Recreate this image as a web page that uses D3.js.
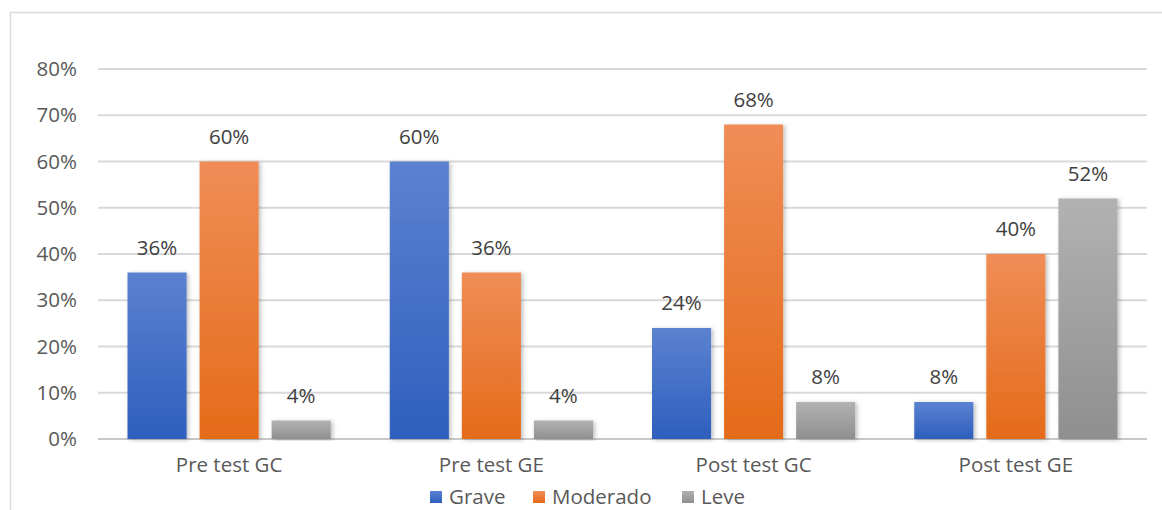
<!DOCTYPE html>
<html>
<head>
<meta charset="utf-8">
<script src="https://cdn.jsdelivr.net/npm/d3@7"></script>
<style>
  html, body { margin: 0; padding: 0; background: #fff; }
  svg { display: block; font-family: "Open Sans", "Liberation Sans", sans-serif; }
</style>
</head>
<body>
<svg id="chart" width="1162" height="510"></svg>
<script>
const categories = ["Pre test GC", "Pre test GE", "Post test GC", "Post test GE"];
const seriesNames = ["Grave", "Moderado", "Leve"];
const grave = [0.36, 0.60, 0.24, 0.08];
const moderado = [0.60, 0.36, 0.68, 0.40];
const leve = [0.04, 0.04, 0.08, 0.52];
const yTicks = [0, 0.1, 0.2, 0.3, 0.4, 0.5, 0.6, 0.7, 0.8];

const svg = d3.select("#chart");
const width = 1162, height = 510;
const margin = { top: 69, right: 15, bottom: 71, left: 98 };
const innerWidth = width - margin.left - margin.right;
const innerHeight = height - margin.top - margin.bottom;
const fontFamily = "'Open Sans', sans-serif";
const fontSize = 20.5;

const palette = [
    { top: "#5b82d0", bottom: "#2e5fbd" },
    { top: "#f08d57", bottom: "#e46b19" },
    { top: "#b2b2b2", bottom: "#8f8f8f" }
];

const defs = svg.append("defs");
palette.forEach((c, i) => {
    const grad = defs.append("linearGradient")
        .attr("id", "grad" + i)
        .attr("x1", 0).attr("y1", 0).attr("x2", 0).attr("y2", 1);
    grad.append("stop").attr("offset", "0%").attr("stop-color", c.top);
    grad.append("stop").attr("offset", "100%").attr("stop-color", c.bottom);
});
const shadow = defs.append("filter").attr("id", "shadow")
    .attr("x", "-20%").attr("y", "-10%").attr("width", "140%").attr("height", "120%");
shadow.append("feDropShadow")
    .attr("dx", 2).attr("dy", 1).attr("stdDeviation", 2)
    .attr("flood-color", "#000").attr("flood-opacity", 0.25);

// frame
svg.append("path")
    .attr("d", `M10.5,${height} V12.5 H${width}`)
    .attr("fill", "none")
    .attr("stroke", "#d9d9d9")
    .attr("stroke-width", 1.5);

const g = svg.append("g")
    .attr("transform", `translate(${margin.left},${margin.top})`);

const x0 = d3.scaleBand().domain(categories).range([0, innerWidth]).paddingInner(0).paddingOuter(0);
const x1 = d3.scaleBand().domain(seriesNames).range([29.5, x0.bandwidth() - 29.5]).paddingInner(0.18).paddingOuter(0);
const y = d3.scaleLinear().domain([0, 0.8]).range([innerHeight, 0]);

// gridlines
g.append("g")
    .selectAll("line")
    .data(yTicks)
    .enter().append("line")
    .attr("x1", 0).attr("x2", innerWidth)
    .attr("y1", d => y(d)).attr("y2", d => y(d))
    .attr("stroke", d => d === 0 ? "#c8c8c8" : "#d9d9d9")
    .attr("stroke-width", 2);

// y axis labels
g.append("g")
    .call(d3.axisLeft(y).tickValues(yTicks).tickFormat(d3.format(".0%")).tickSize(0).tickPadding(21))
    .call(a => a.select(".domain").remove())
    .selectAll("text")
    .attr("font-size", fontSize)
    .attr("font-family", fontFamily)
    .attr("fill", "#595959");

// x axis labels
g.append("g")
    .attr("transform", `translate(0,${innerHeight})`)
    .call(d3.axisBottom(x0).tickSize(0).tickPadding(18))
    .call(a => a.select(".domain").remove())
    .selectAll("text")
    .attr("font-size", fontSize)
    .attr("font-family", fontFamily)
    .attr("fill", "#595959");

const rows = categories.map((c, i) => ({
    category: c,
    values: [grave[i], moderado[i], leve[i]].map((v, j) => ({ series: seriesNames[j], idx: j, value: v }))
}));

const groups = g.selectAll(".group")
    .data(rows)
    .enter().append("g")
    .attr("class", "group")
    .attr("transform", d => `translate(${x0(d.category)},0)`);

groups.selectAll("rect")
    .data(d => d.values)
    .enter().append("rect")
    .attr("x", d => x1(d.series))
    .attr("y", d => y(d.value))
    .attr("width", x1.bandwidth())
    .attr("height", d => y(0) - y(d.value))
    .attr("fill", d => `url(#grad${d.idx})`)
    .attr("filter", "url(#shadow)");

groups.selectAll(".val")
    .data(d => d.values)
    .enter().append("text")
    .attr("class", "val")
    .attr("x", d => x1(d.series) + x1.bandwidth() / 2)
    .attr("y", d => y(d.value) - 18)
    .attr("text-anchor", "middle")
    .attr("font-size", fontSize)
    .attr("fill", "#404040")
    .text(d => d3.format(".0%")(d.value));

// legend
const legendItems = [
    { name: "Grave", x: 430 },
    { name: "Moderado", x: 533 },
    { name: "Leve", x: 682 }
];
const legend = svg.append("g");
legendItems.forEach((item, i) => {
    legend.append("rect")
        .attr("x", item.x).attr("y", 491)
        .attr("width", 12).attr("height", 12)
        .attr("fill", `url(#grad${i})`);
    legend.append("text")
        .attr("x", item.x + 19).attr("y", 504)
        .attr("font-size", fontSize)
        .attr("fill", "#595959")
        .text(item.name);
});
</script>
</body>
</html>
